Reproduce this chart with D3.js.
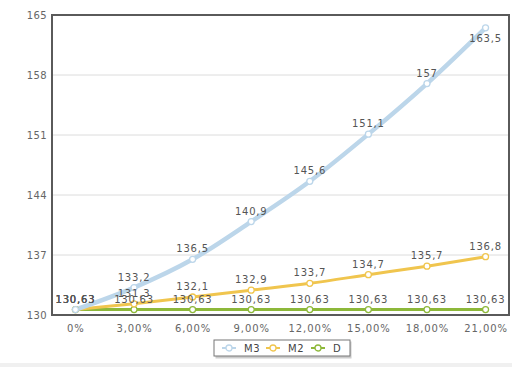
<!DOCTYPE html>
<html>
<head>
<meta charset="utf-8">
<script src="https://cdn.jsdelivr.net/npm/d3@7"></script>
<style>
  body { margin: 0; background: #fff; }
  svg { display: block; font-family: "DejaVu Sans", Verdana, sans-serif; }
</style>
</head>
<body>
<svg id="chart" width="512" height="367"></svg>
<script>
// Chart data
const categories = ["0%", "3,00%", "6,00%", "9,00%", "12,00%", "15,00%", "18,00%", "21,00%"];
const m3 = [130.63, 133.2, 136.5, 140.9, 145.6, 151.1, 157, 163.5];
const m2 = [130.63, 131.3, 132.1, 132.9, 133.7, 134.7, 135.7, 136.8];
const dSeries = [130.63, 130.63, 130.63, 130.63, 130.63, 130.63, 130.63, 130.63];
const yTicks = [130, 137, 144, 151, 158, 165];

const series = [
  { name: "D", values: dSeries, color: "#8db83a", width: 3 },
  { name: "M2", values: m2, color: "#f0c54e", width: 3 },
  { name: "M3", values: m3, color: "#bcd6ea", width: 4.5 }
];

const margin = { top: 15, right: 3, bottom: 52, left: 52 };
const width = 512 - margin.left - margin.right;
const height = 367 - margin.top - margin.bottom;

const svg = d3.select("#chart");

// faint grey strip at the very bottom
svg.append("rect").attr("x", 0).attr("y", 363).attr("width", 512).attr("height", 4).attr("fill", "#f0f0f0");

const g = svg.append("g").attr("transform", `translate(${margin.left}, ${margin.top})`);

const x = d3.scalePoint().domain(categories).range([0, width]).padding(0.4);
const y = d3.scaleLinear().domain([130, 165]).range([height, 0]);

// gridlines
g.selectAll(".grid")
  .data(yTicks)
  .enter()
  .append("line")
  .attr("x1", 0)
  .attr("x2", width)
  .attr("y1", (d) => y(d))
  .attr("y2", (d) => y(d))
  .attr("stroke", "#dcdcdc")
  .attr("stroke-width", 1);

// plot border
g.append("rect")
  .attr("x", 0)
  .attr("y", 0)
  .attr("width", width)
  .attr("height", height)
  .attr("fill", "none")
  .attr("stroke", "#5a5a5a")
  .attr("stroke-width", 2);

// y axis
const yAxis = g.append("g")
  .call(d3.axisLeft(y).tickValues(yTicks).tickSize(0).tickPadding(5).tickFormat(d3.format("d")));
yAxis.select(".domain").remove();
yAxis.selectAll("text").attr("fill", "#666").style("font-size", "10px")
  .style("letter-spacing", "0.4px").style("font-family", "DejaVu Sans, Verdana, sans-serif");

// x axis
const xAxis = g.append("g")
  .attr("transform", `translate(0, ${height})`)
  .call(d3.axisBottom(x).tickSize(0).tickPadding(10));
xAxis.select(".domain").remove();
xAxis.selectAll("text").attr("fill", "#666").style("font-size", "10px")
  .style("letter-spacing", "0.9px").style("font-family", "DejaVu Sans, Verdana, sans-serif");

const line = d3.line()
  .x((d, i) => x(categories[i]))
  .y((d) => y(d))
  .curve(d3.curveMonotoneX);

const fmt = (v) => String(v).replace(".", ",");

series.forEach((s) => {
  g.append("path")
    .datum(s.values)
    .attr("fill", "none")
    .attr("stroke", s.color)
    .attr("stroke-width", s.width)
    .attr("d", line);
});

series.forEach((s) => {
  g.selectAll(".pt-" + s.name)
    .data(s.values)
    .enter()
    .append("circle")
    .attr("cx", (d, i) => x(categories[i]))
    .attr("cy", (d) => y(d))
    .attr("r", 3)
    .attr("fill", "#fff")
    .attr("stroke", s.color)
    .attr("stroke-width", 1.3);
});

// value labels
series.forEach((s) => {
  g.selectAll(".lbl-" + s.name)
    .data(s.values)
    .enter()
    .append("text")
    .attr("x", (d, i) => x(categories[i]))
    .attr("y", (d) => {
      const py = y(d);
      return py - 7 < 10 ? py + 14 : py - 7;
    })
    .attr("text-anchor", "middle")
    .attr("fill", "#555")
    .style("font-size", "10px")
    .style("letter-spacing", "0.8px")
    .text((d) => fmt(d));
});

// legend
const legendItems = [series[2], series[1], series[0]];
const legend = svg.append("g").attr("transform", "translate(214, 340)");
legend.append("rect")
  .attr("x", 1.5).attr("y", 1.5).attr("width", 136).attr("height", 17)
  .attr("fill", "#ccc");
legend.append("rect")
  .attr("x", 0).attr("y", 0).attr("width", 136).attr("height", 16)
  .attr("fill", "#fff").attr("stroke", "#777").attr("stroke-width", 1);
const itemX = [8, 52, 97];
legendItems.forEach((s, i) => {
  const it = legend.append("g").attr("transform", `translate(${itemX[i]}, 8)`);
  it.append("line").attr("x1", 0).attr("x2", 14).attr("y1", 0).attr("y2", 0)
    .attr("stroke", s.color).attr("stroke-width", 2);
  it.append("circle").attr("cx", 7).attr("cy", 0).attr("r", 3)
    .attr("fill", "#fff").attr("stroke", s.color).attr("stroke-width", 1.3);
  it.append("text").attr("x", 22).attr("y", 3.5).attr("fill", "#444")
    .style("font-size", "10px").style("letter-spacing", "0.6px").text(s.name);
});
</script>
</body>
</html>
